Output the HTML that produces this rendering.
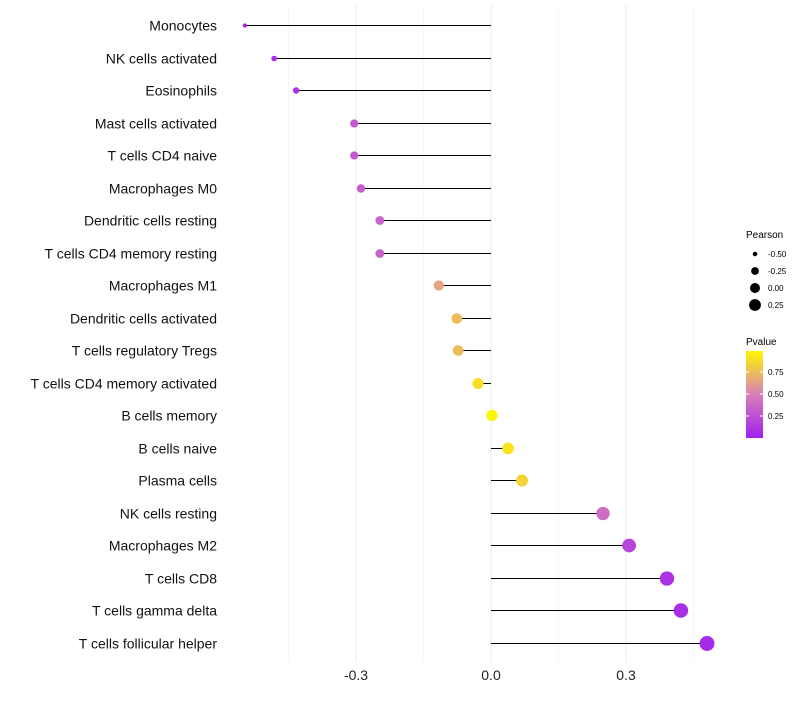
<!DOCTYPE html>
<html><head><meta charset="utf-8"><style>
body{margin:0;background:#fff;font-family:"Liberation Sans",sans-serif}
</style></head><body>
<svg id="chart" width="800" height="700" xmlns="http://www.w3.org/2000/svg">
<defs><linearGradient id="pg" x1="0" y1="1" x2="0" y2="0">
<stop offset="0" stop-color="#a020f0"/><stop offset="0.5" stop-color="#d87fb8"/><stop offset="1" stop-color="#fff700"/></linearGradient></defs>
<g id="grid"></g><g id="marks"></g><g id="labels"></g><g id="xticks"></g>
<g>
<text x="746" y="238" font-size="10">Pearson</text>
<g id="sizeleg"></g>
<text x="746" y="345" font-size="10">Pvalue</text>
<rect x="746" y="351" width="17" height="87" fill="url(#pg)"/>
<g id="colleg"></g>
</g>
</svg>
<script>
const categories=["Monocytes","NK cells activated","Eosinophils","Mast cells activated","T cells CD4 naive","Macrophages M0","Dendritic cells resting","T cells CD4 memory resting","Macrophages M1","Dendritic cells activated","T cells regulatory  Tregs","T cells CD4 memory activated","B cells memory","B cells naive","Plasma cells","NK cells resting","Macrophages M2","T cells CD8","T cells gamma delta","T cells follicular helper"];
const pearson=[-0.547,-0.482,-0.433,-0.304,-0.304,-0.289,-0.247,-0.247,-0.116,-0.076,-0.073,-0.029,0.002,0.038,0.069,0.249,0.307,0.391,0.422,0.48];
const pvalue=[0.03,0.05,0.1,0.3,0.3,0.33,0.35,0.35,0.65,0.75,0.75,0.9,1.0,0.92,0.85,0.4,0.2,0.1,0.08,0.05];
const xTicks=[-0.3,0,0.3];
const xTickLabels=["-0.3","0.0","0.3"];
const sizeLegend=[-0.5,-0.25,0,0.25];
const colorLegend=[0.25,0.5,0.75];
const NS="http://www.w3.org/2000/svg";
const x=v=>491+v*450;
const y=i=>Math.round(25+i*32.5)+0.5;
const r=p=>Math.sqrt(Math.max(2,32+50*p));
const rl=p=>Math.sqrt(Math.max(2,25+40*p));
function lerp(a,b,t){return a.map((v,k)=>Math.round(v+(b[k]-v)*t));}
function col(p){const s=[[160,32,240],[216,127,184],[255,247,0]];const c=p<0.5?lerp(s[0],s[1],p/0.5):lerp(s[1],s[2],(p-0.5)/0.5);return `rgb(${c})`;}
function mk(tag,at,parent){const e=document.createElementNS(NS,tag);for(const k in at)e.setAttribute(k,at[k]);document.getElementById(parent).appendChild(e);return e;}
[-0.45,-0.15,0.15,0.45].forEach(v=>{const g=mk("line",{x1:x(v),x2:x(v),y1:5,y2:662,stroke:"#f2f2f2","stroke-width":0.6},"grid");

});
xTicks.forEach((v,i)=>{const g=mk("line",{x1:x(v),x2:x(v),y1:5,y2:662,stroke:"#ebebeb","stroke-width":1},"grid");


const t=mk("text",{x:x(v),y:680,"font-size":14,"text-anchor":"middle",fill:"#222"},"xticks");t.textContent=xTickLabels[i];

});
categories.forEach((c,i)=>{
const l=mk("line",{x1:x(0),x2:x(pearson[i]),y1:y(i),y2:y(i),stroke:"#000","stroke-width":1},"marks");


const d=mk("circle",{cx:x(pearson[i]),cy:y(i),r:r(pearson[i]),fill:col(pvalue[i])},"marks");


const t=mk("text",{x:217,y:y(i)+5,"font-size":14,"text-anchor":"end",fill:"#111"},"labels");t.textContent=c;

});
sizeLegend.forEach((p,i)=>{const yy=254+i*17;
const c=mk("circle",{cx:755,cy:yy,r:rl(p),fill:"#000"},"sizeleg");


const t=mk("text",{x:768,y:yy+3,"font-size":8},"sizeleg");t.textContent=p.toFixed(2);

});
colorLegend.forEach(p=>{const yy=438-p*88;
const t=mk("text",{x:768,y:yy+3,"font-size":8},"colleg");t.textContent=p.toFixed(2);


mk("line",{x1:746,x2:749,y1:yy,y2:yy,stroke:"#fff"},"colleg");mk("line",{x1:760,x2:763,y1:yy,y2:yy,stroke:"#fff"},"colleg");});
</script>
</body></html>
